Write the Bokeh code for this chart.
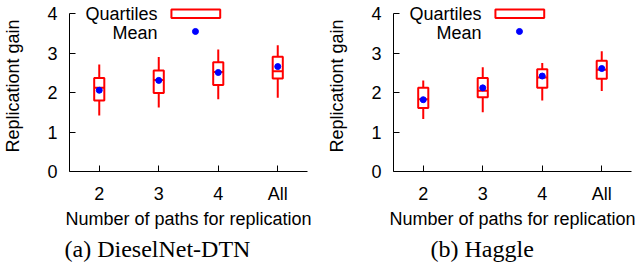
import numpy as np
from bokeh.plotting import figure
from bokeh.layouts import row
from bokeh.models import Range1d, FixedTicker, Label, Title
from bokeh.embed import file_html
from bokeh.resources import INLINE

categories = ["2", "3", "4", "All"]
y_ticks = [0, 1, 2, 3, 4]

# Panel (a) DieselNet-DTN
dn_low = [1.42, 1.62, 1.83, 1.87]
dn_q1 = [1.80, 1.99, 2.19, 2.36]
dn_med = [2.12, 2.32, 2.52, 2.54]
dn_q3 = [2.37, 2.56, 2.77, 2.91]
dn_high = [2.71, 2.90, 3.09, 3.20]
dn_mean = [2.06, 2.31, 2.51, 2.66]

# Panel (b) Haggle
hg_low = [1.33, 1.50, 1.80, 2.04]
hg_q1 = [1.61, 1.88, 2.12, 2.35]
hg_med = [1.83, 2.05, 2.38, 2.58]
hg_q3 = [2.12, 2.37, 2.59, 2.81]
hg_high = [2.31, 2.64, 2.75, 3.05]
hg_mean = [1.82, 2.12, 2.42, 2.61]

SANS = "Liberation Sans"
SERIF = "Liberation Serif"
RED = "#ff0000"
BLUE = "#0000ff"
BOX_W = 0.17


def panel(low, q1, med, q3, high, mean, caption, width, left, right, cap_offset):
    p = figure(width=width, height=263, output_backend="svg", toolbar_location=None,
               x_range=Range1d(0.5, 4.5), y_range=Range1d(0, 4.335),
               min_border_left=left, min_border_right=right,
               min_border_top=0, min_border_bottom=91)
    p.outline_line_color = None
    p.grid.visible = False
    p.background_fill_color = "white"
    p.border_fill_color = "white"

    x = np.arange(1, len(categories) + 1)
    # whiskers
    p.segment(x0=x, y0=low, x1=x, y1=q1, line_color=RED, line_width=2)
    p.segment(x0=x, y0=q3, x1=x, y1=high, line_color=RED, line_width=2)
    # boxes
    p.vbar(x=x, width=BOX_W, bottom=q1, top=q3, fill_color="white",
           line_color=RED, line_width=2)
    # medians
    p.segment(x0=x - BOX_W / 2, y0=med, x1=x + BOX_W / 2, y1=med,
              line_color=RED, line_width=2)
    # means
    p.scatter(x=x, y=mean, size=6, marker="circle", fill_color=BLUE, line_color=BLUE)

    # key
    for txt, ty in (("Quartiles", 4.0), ("Mean", 3.52)):
        p.add_layout(Label(x=1.98, y=ty, text=txt, text_align="right",
                           text_baseline="middle", text_font=SANS,
                           text_font_size="18px", text_color="black"))
    p.rect(x=[2.623], y=[4.0], width=0.82, height=0.217, fill_color="white",
           line_color=RED, line_width=2)
    p.scatter(x=[2.617], y=[3.55], size=6, marker="circle", fill_color=BLUE,
              line_color=BLUE)

    xa = p.xaxis[0]
    xa.ticker = FixedTicker(ticks=list(x))
    xa.major_label_overrides = {int(i): c for i, c in zip(x, categories)}
    xa.minor_tick_line_color = None
    xa.major_tick_in = 6
    xa.major_tick_out = 0
    xa.major_label_standoff = 12
    xa.axis_label = "Number of paths for replication"
    xa.axis_label_standoff = 2

    ya = p.yaxis[0]
    ya.ticker = FixedTicker(ticks=y_ticks)
    ya.bounds = (0, 4)
    ya.minor_tick_line_color = None
    ya.major_tick_in = 6
    ya.major_tick_out = 0
    ya.major_label_standoff = 12
    ya.axis_label = "Replicationt gain"
    ya.axis_label_standoff = 21

    for a in (xa, ya):
        a.axis_line_color = "black"
        a.axis_line_width = 1
        a.major_tick_line_color = "black"
        a.major_label_text_font = SANS
        a.major_label_text_font_size = "18px"
        a.major_label_text_color = "black"
        a.axis_label_text_font = SANS
        a.axis_label_text_font_size = "18px"
        a.axis_label_text_font_style = "normal"
        a.axis_label_text_color = "black"

    p.add_layout(Title(text=caption, align="left", offset=cap_offset, standoff=4,
                       text_font=SERIF, text_font_size="24px",
                       text_font_style="normal", text_color="black"), "below")
    return p


p1 = panel(dn_low, dn_q1, dn_med, dn_q3, dn_high, dn_mean, "(a) DieselNet-DTN",
           323, 69, 16, -5)
p2 = panel(hg_low, hg_q1, hg_med, hg_q3, hg_high, hg_mean, "(b) Haggle",
           316, 70, 8, 37)

layout = row(p1, p2)
open("out.html", "w").write(file_html(layout, INLINE))
